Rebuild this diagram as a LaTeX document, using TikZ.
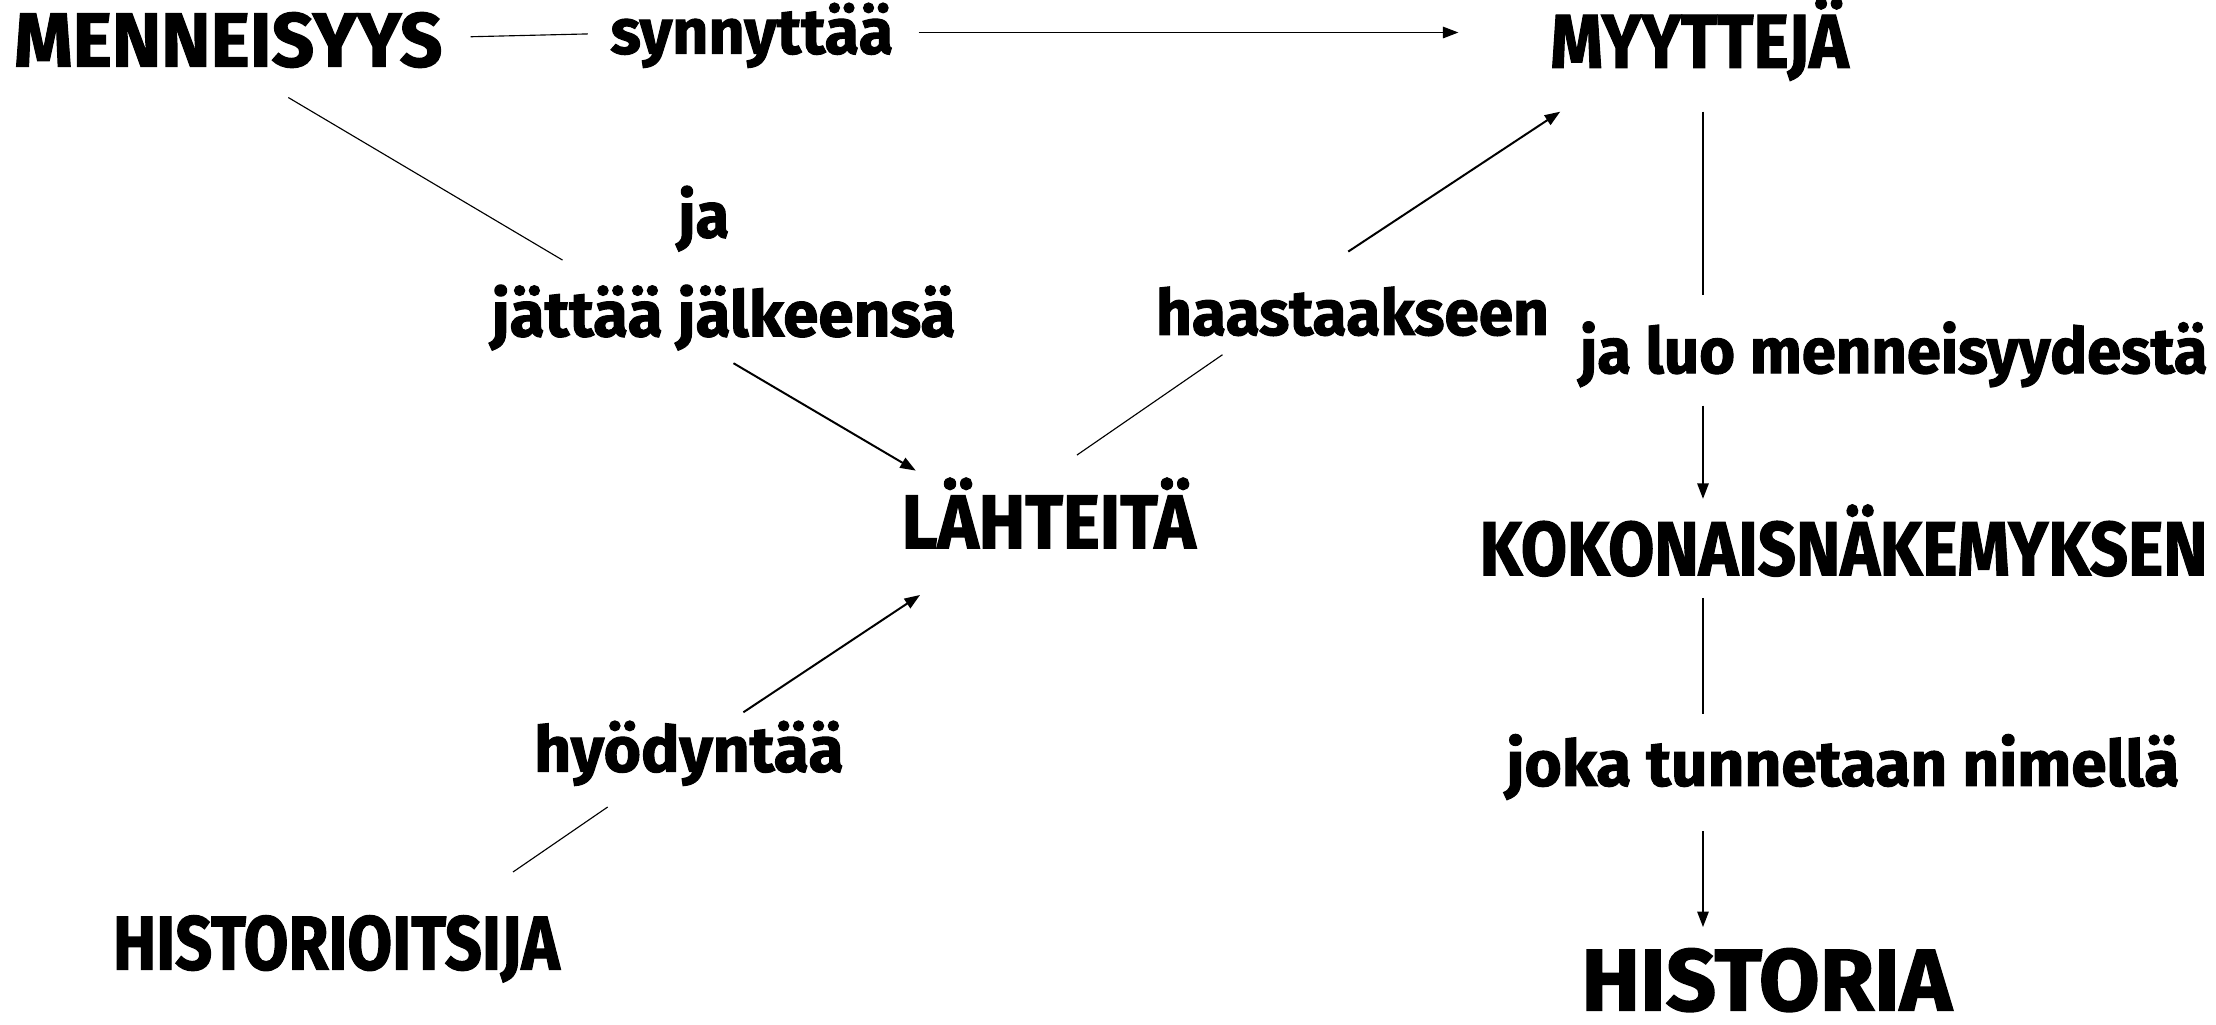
\documentclass[tikz,border=0pt]{standalone}
\usepackage{fontspec}
\setmainfont{Fira Sans}[BoldFeatures={FakeBold=1.6}]
\usetikzlibrary{arrows.meta,calc}
\newcommand\fitw[3]{\resizebox{#1pt}{\height}{\fontsize{#2}{#2}\selectfont\bfseries #3}}
\tikzset{
  lbl/.style={inner sep=0pt, anchor=base},
  thinln/.style={line width=0.8pt},
  arr/.style={line width=1.4pt, -{Triangle[length=11pt,width=8pt]}}
}
\begin{document}
\begin{tikzpicture}[x=1pt,y=-1pt]
\useasboundingbox[fill=white] (0,0) rectangle (1568,725);
\node[lbl] (men)  at (161.5,47) {\fitw{303}{54}{MENNEISYYS}};
\node[lbl] (syn)  at (532,38)   {\fitw{200}{45}{synnyttää}};
\node[lbl] (myy)  at (1202.5,48){\fitw{211}{54}{MYYTTEJÄ}};
\node[lbl] (ja)   at (498,168)  {\fitw{36}{45}{ja}};
\node[lbl] (jat)  at (512,238)  {\fitw{328}{45}{jättää jälkeensä}};
\node[lbl] (haa)  at (957,237)  {\fitw{278}{45}{haastaakseen}};
\node[lbl] (jaluo) at (1340,264){\fitw{444}{45}{ja luo menneisyydestä}};
\node[lbl] (lah)  at (742,388)  {\fitw{208}{54}{LÄHTEITÄ}};
\node[lbl] (kok)  at (1304.5,407){\fitw{515}{54}{KOKONAISNÄKEMYKSEN}};
\node[lbl] (hyo)  at (487.5,546){\fitw{219}{45}{hyödyntää}};
\node[lbl] (joka) at (1304,556) {\fitw{476}{45}{joka tunnetaan nimellä}};
\node[lbl] (hit)  at (238,686)  {\fitw{316}{54}{HISTORIOITSIJA}};
\node[lbl] (his)  at (1250,715) {\fitw{262}{62}{HISTORIA}};
% connectors
\draw[thinln] ($(men.base)+(171.5,-21)$) -- ($(syn.base)+(-116,-14)$);
\draw[arr] ($(syn.base)+(118,-15)$) -- ($(myy.base)+(-170.5,-25)$);
\draw[thinln] ($(men.base)+(42.5,22)$) -- ($(jat.base)+(-114,-54)$);
\draw[arr] ($(jat.base)+(7,19)$) -- ($(lah.base)+(-94,-55)$);
\draw[thinln] ($(lah.base)+(20,-66)$) -- ($(haa.base)+(-92,14)$);
\draw[arr] ($(haa.base)+(-3,-59)$) -- ($(myy.base)+(-98.5,31)$);
\draw[thinln] ($(myy.base)+(2.5,31)$) -- ($(jaluo.base)+(-135,-55)$);
\draw[arr] ($(jaluo.base)+(-135,23)$) -- ($(kok.base)+(-99.5,-54)$);
\draw[thinln] ($(kok.base)+(-99.5,16)$) -- ($(joka.base)+(-99,-51)$);
\draw[arr] ($(joka.base)+(-99,32)$) -- ($(his.base)+(-45,-59)$);
\draw[thinln] ($(hit.base)+(125,-69)$) -- ($(hyo.base)+(-57.5,25)$);
\draw[arr] ($(hyo.base)+(38.5,-42)$) -- ($(lah.base)+(-91,33)$);
\end{tikzpicture}
\end{document}
